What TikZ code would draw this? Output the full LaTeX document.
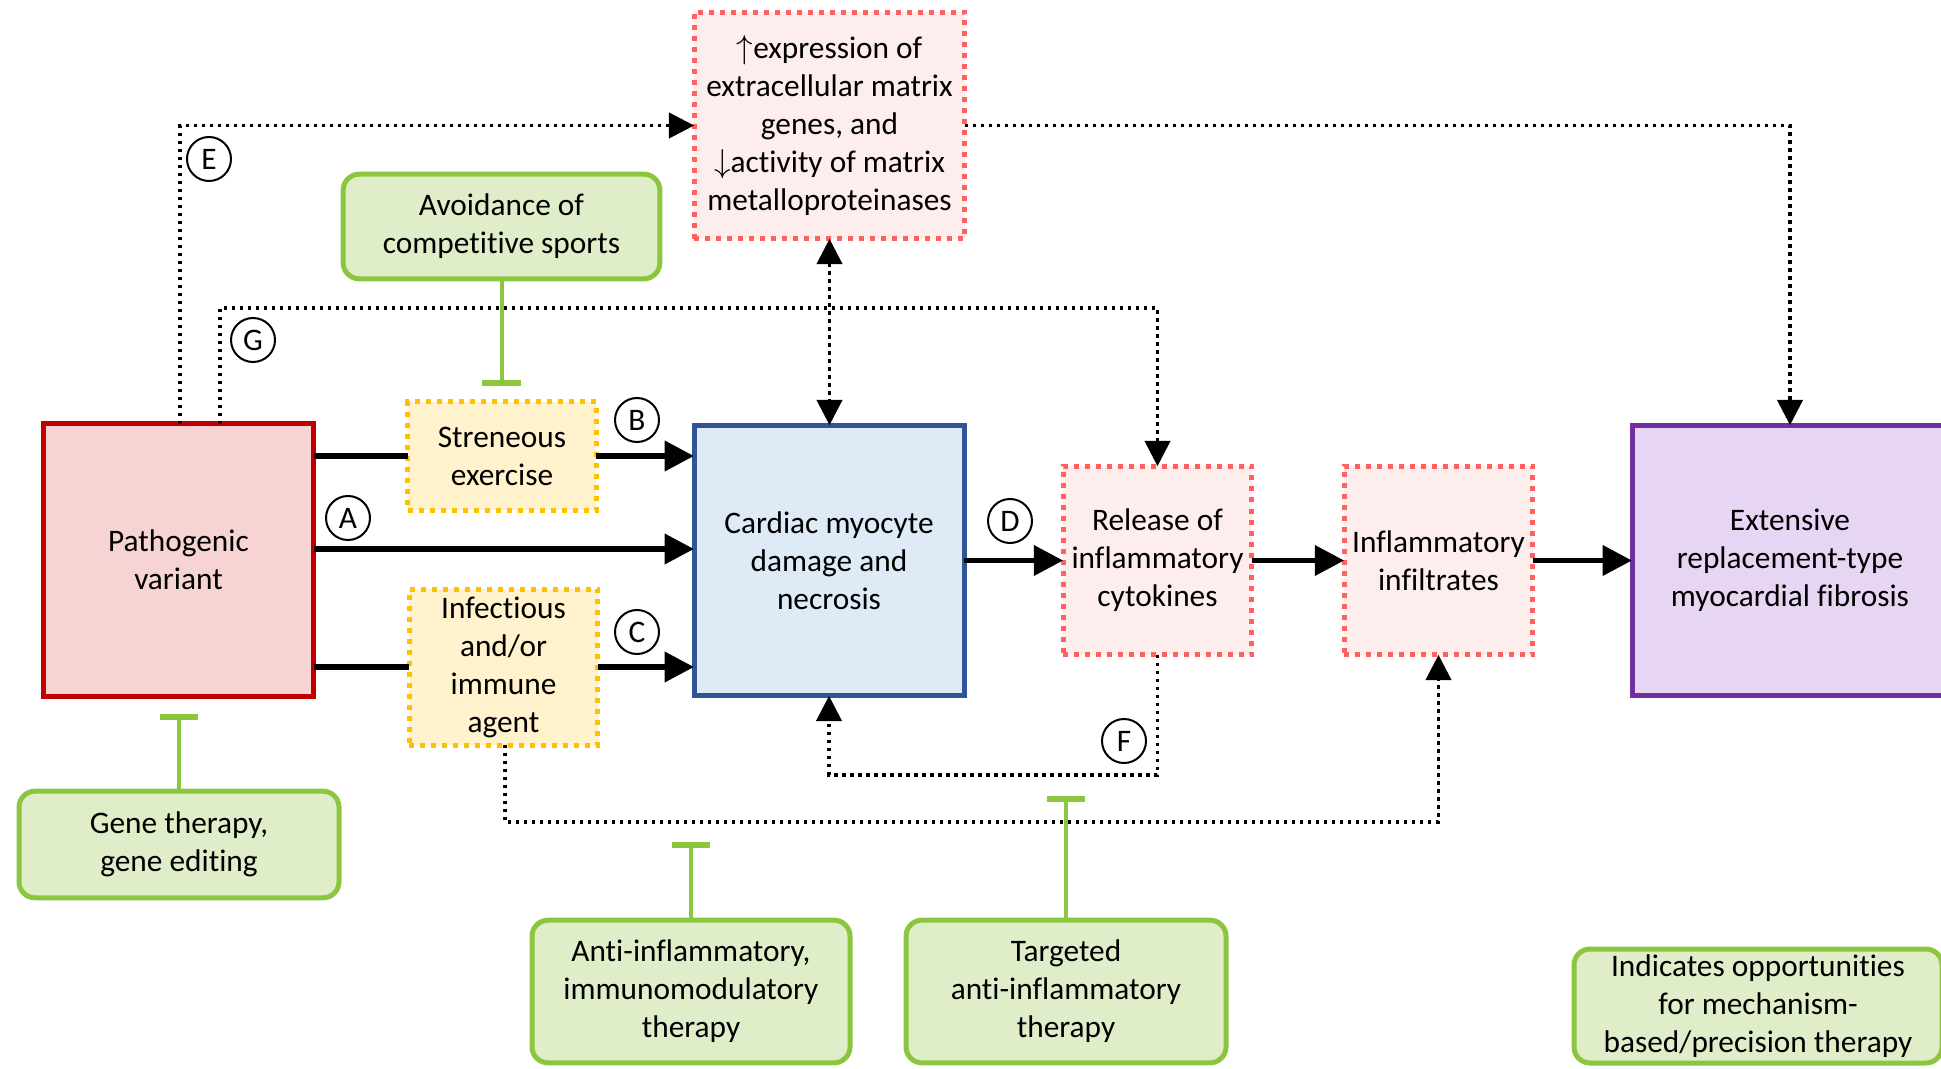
\documentclass[tikz,border=0pt]{standalone}
\usepackage{fontspec}
\setmainfont{Carlito}[Ligatures={NoCommon,NoContextual,NoRare}]
\usetikzlibrary{arrows.meta,calc}
\definecolor{pvred}{HTML}{C00000}
\definecolor{pvfill}{HTML}{F6D4D4}
\definecolor{ylwB}{HTML}{FFC000}
\definecolor{ylwF}{HTML}{FFF2CC}
\definecolor{bluB}{HTML}{2F5597}
\definecolor{bluF}{HTML}{DEEBF7}
\definecolor{pnkB}{HTML}{FF6161}
\definecolor{pnkF}{HTML}{FDEDED}
\definecolor{purB}{HTML}{7030A0}
\definecolor{purF}{HTML}{E7D6F3}
\definecolor{grnB}{HTML}{8CC63F}
\definecolor{grnF}{HTML}{DFEEC9}
\begin{document}
\begin{tikzpicture}[x=0.75pt,y=-0.75pt,
  every node/.style={font=\fontsize{23.5}{28.5}\selectfont, align=center, inner sep=0pt, outer sep=0pt},
  solidbox/.style={rectangle, draw, line width=3.75pt},
  dotbox/.style={rectangle, draw, line width=3.75pt, dash pattern=on 3.75pt off 4.5pt},
  pvbox/.style={solidbox, draw=pvred, fill=pvfill},
  ylbox/.style={dotbox, draw=ylwB, fill=ylwF},
  blbox/.style={solidbox, draw=bluB, fill=bluF},
  pkbox/.style={dotbox, draw=pnkB, fill=pnkF},
  pubox/.style={solidbox, draw=purB, fill=purF},
  gnbox/.style={rectangle, rounded corners=12pt, draw=grnB, fill=grnF, line width=3.75pt},
  lab/.style={circle, draw, line width=1.5pt, minimum size=33pt},
  mainarr/.style={line width=4.4pt, -{Triangle[length=22pt,width=22pt]}},
  plainln/.style={line width=4.4pt},
  dotln/.style={line width=2.5pt, dash pattern=on 2.5pt off 3.5pt},
  dotarr/.style={dotln, -{Triangle[length=19pt,width=19pt]}},
  inhib/.style={draw=grnB, line width=3pt, -{Bar[width=29pt,line width=4pt]}}
]
\useasboundingbox (0,0) rectangle (1941,1069);
\clip (0,0) rectangle (1941,1069);

% boxes
\node[pvbox, minimum width=203pt, minimum height=204pt] (path) at (178.5,560) {Pathogenic\\variant};
\node[ylbox, minimum width=141.5pt, minimum height=81pt] (stren) at (502,456) {Streneous\\exercise};
\node[ylbox, minimum width=141.5pt, minimum height=117pt] (infect) at (503.5,667) {Infectious\\and/or\\immune\\agent};
\node[blbox, minimum width=202.5pt, minimum height=203pt] (cardiac) at (829,560.5) {Cardiac myocyte\\damage and\\necrosis};
\node[pkbox, minimum width=141.5pt, minimum height=141.5pt] (release) at (1157.5,560.5) {Release of\\inflammatory\\cytokines};
\node[pkbox, minimum width=141.5pt, minimum height=141.5pt] (infil) at (1438.5,560.5) {Inflammatory\\infiltrates};
\node[pubox, minimum width=237pt, minimum height=203pt] (ext) at (1790,560.5) {Extensive\\replacement-type\\myocardial fibrosis};
\node[pkbox, minimum width=203pt, minimum height=170pt] (ecm) at (829.5,125.5) {$\uparrow$expression of\\extracellular matrix\\genes, and\\$\downarrow$activity of matrix\\metalloproteinases};

\node[gnbox, minimum width=237.5pt, minimum height=78.5pt] (avoid) at (501.5,226.5) {Avoidance of\\competitive sports};
\node[gnbox, minimum width=240pt, minimum height=80pt] (gene) at (179,844.5) {Gene therapy,\\gene editing};
\node[gnbox, minimum width=238.5pt, minimum height=107pt] (anti) at (691,991.5) {Anti-inflammatory,\\immunomodulatory\\therapy};
\node[gnbox, minimum width=240pt, minimum height=107pt] (targ) at (1066,991.5) {Targeted\\anti-inflammatory\\therapy};
\node[gnbox, minimum width=276pt, minimum height=85.5pt] (ind) at (1758,1006) {Indicates opportunities\\for mechanism-\\based/precision therapy};

% solid connectors
\draw[mainarr] (path.east |- 0,549) -- (cardiac.west |- 0,549);
\draw[plainln] (path.east |- stren.west) -- (stren.west);
\draw[mainarr] (stren.east) -- (cardiac.west |- stren.east);
\draw[plainln] (path.east |- infect.west) -- (infect.west);
\draw[mainarr] (infect.east) -- (cardiac.west |- infect.east);
\draw[mainarr] (cardiac.east |- release.west) -- (release.west);
\draw[mainarr] (release.east) -- (infil.west);
\draw[mainarr] (infil.east) -- (ext.west |- infil.east);

% dotted connectors
\draw[dotarr] ($(path.north)+(1.5,0)$) |- (ecm.west);
\draw[dotarr] (ecm.east) -| (ext.north);
\draw[dotln, {Triangle[length=19pt,width=19pt]}-{Triangle[length=19pt,width=19pt]}] (ecm.south) -- (cardiac.north -| ecm.south);
\draw[dotarr] ($(path.north)+(41.5,0)$) -- ++(0,-116) -| (release.north);
\draw[dotarr] (release.south) -- ++(0,120) -| (cardiac.south);
\draw[dotarr] ($(infect.south)+(1.5,0)$) -- ++(0,77) -| (infil.south);

% inhibitor connectors
\draw[inhib] (avoid.south) -- ++(0,107);
\draw[inhib] (gene.north) -- ++(0,-77);
\draw[inhib] (anti.north) -- ++(0,-78);
\draw[inhib] (targ.north) -- ++(0,-124);

% circled labels
\node[lab] (lA) at (348,518) {A};
\node[lab] (lB) at (637,420) {B};
\node[lab] (lC) at (637,632) {C};
\node[lab] (lD) at (1010,521) {D};
\node[lab] (lE) at (209,159) {E};
\node[lab] (lF) at (1124,741) {F};
\node[lab] (lG) at (253,340) {G};
\end{tikzpicture}
\end{document}
